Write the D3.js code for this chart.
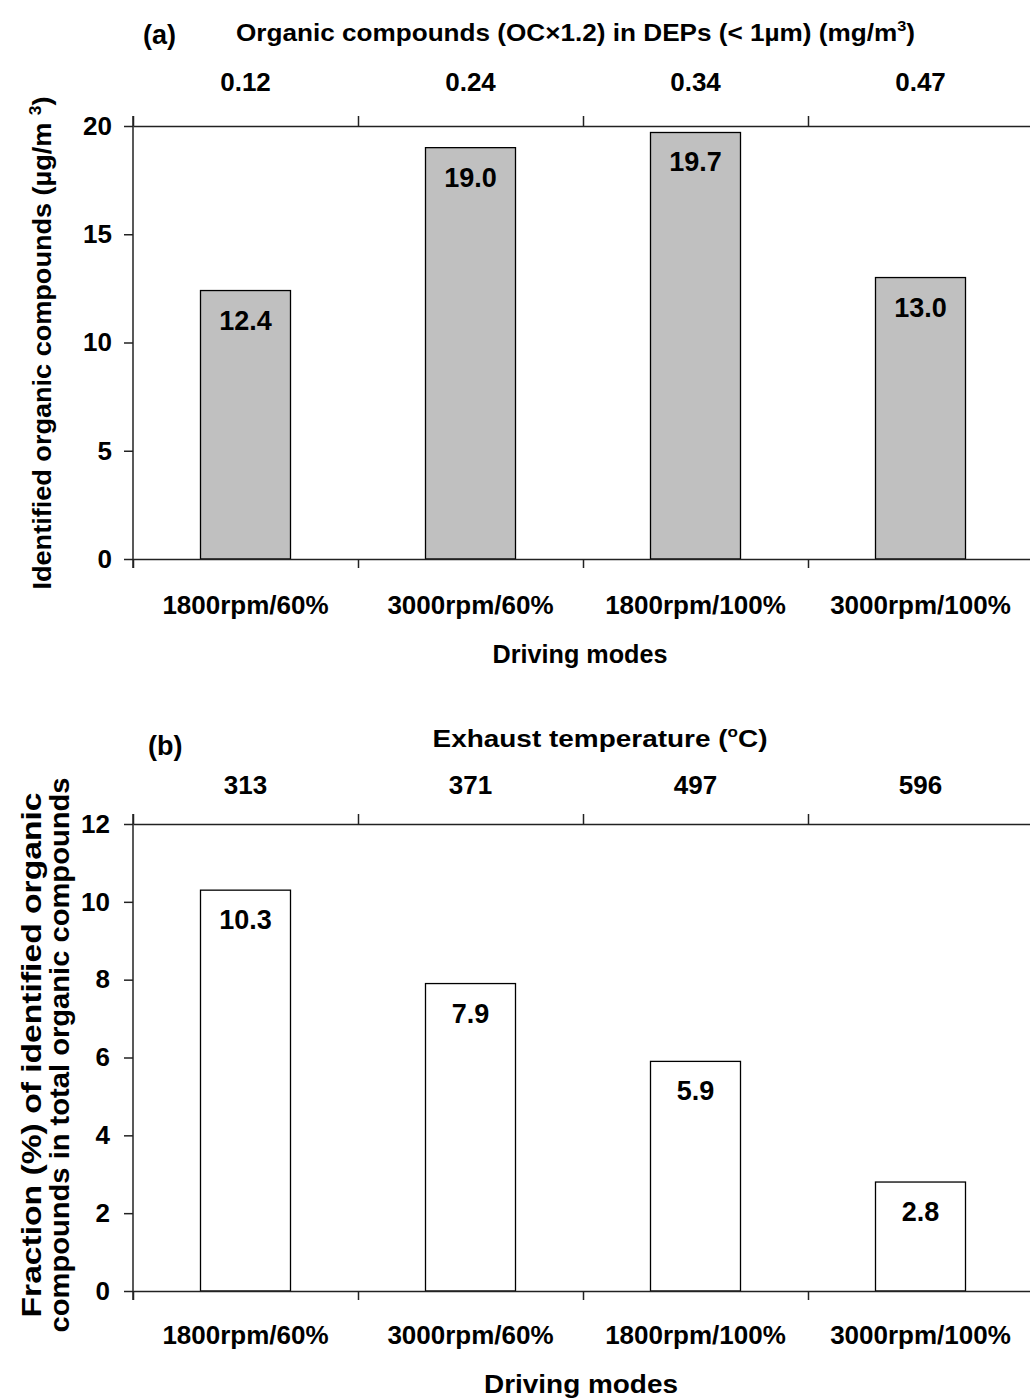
<!DOCTYPE html>
<html>
<head>
<meta charset="utf-8">
<script src="https://cdn.jsdelivr.net/npm/d3@7"></script>
<style>
  html, body { margin: 0; padding: 0; background: #fff; }
  svg { display: block; font-family: "Liberation Sans", Arial, sans-serif; font-weight: bold; }
</style>
</head>
<body>
<svg id="chart" width="1030" height="1399"></svg>
<script>
// ---- data ----
const modes = ["1800rpm/60%", "3000rpm/60%", "1800rpm/100%", "3000rpm/100%"];
const identifiedOC = [12.4, 19.0, 19.7, 13.0];          // µg/m3 (panel a)
const ocInDEPs = ["0.12", "0.24", "0.34", "0.47"];      // mg/m3, top labels (panel a)
const fractionIdentified = [10.3, 7.9, 5.9, 2.8];       // % (panel b)
const exhaustTemp = ["313", "371", "497", "596"];       // °C, top labels (panel b)
const yTicksA = [0, 5, 10, 15, 20];
const yTicksB = [0, 2, 4, 6, 8, 10, 12];

const svg = d3.select("#chart");
const X0 = 133, X1 = 1033;
const FF = "Liberation Sans, Arial, sans-serif";

function panel(opts) {
  const g = svg.append("g");
  const xBand = d3.scaleBand().domain(modes).range([X0, X1]).padding(0);
  const xEdge = d3.scaleLinear().domain([0, modes.length]).range([X0, X1]);
  const y = d3.scaleLinear().domain(opts.yDomain).range([opts.yBottom, opts.yTop]);
  const axisColor = "#222";

  // bars
  const bw = xBand.bandwidth() * 0.4;
  g.selectAll("rect.bar").data(opts.values).enter().append("rect")
    .attr("x", (d, i) => xBand(modes[i]) + (xBand.bandwidth() - bw) / 2)
    .attr("y", d => y(d))
    .attr("width", bw)
    .attr("height", d => y(0) - y(d))
    .attr("fill", opts.fill)
    .attr("stroke", "#000")
    .attr("stroke-width", 1.3);

  // value labels
  g.selectAll("text.val").data(opts.values).enter().append("text")
    .attr("x", (d, i) => xBand(modes[i]) + xBand.bandwidth() / 2)
    .attr("y", d => y(d) + 39)
    .attr("text-anchor", "middle")
    .attr("font-size", 27)
    .attr("fill", "#000")
    .text(d => d.toFixed(1));

  // left axis
  const yAxis = g.append("g").attr("transform", `translate(${X0},0)`)
    .call(d3.axisLeft(y).tickValues(opts.yTicks).tickSize(9).tickPadding(opts.tickPad).tickSizeOuter(0));
  yAxis.select(".domain").remove();
  yAxis.selectAll("line").attr("stroke", axisColor).attr("stroke-width", 1.5);
  yAxis.selectAll("text").attr("font-size", 26).attr("fill", "#000")
    .attr("font-family", FF).attr("font-weight", "bold");
  g.append("line").attr("x1", X0).attr("x2", X0).attr("y1", opts.yTop - 10).attr("y2", opts.yBottom + 9)
    .attr("stroke", axisColor).attr("stroke-width", 1.5);

  // bottom axis (boundary ticks)
  const bAxis = g.append("g").attr("transform", `translate(0,${opts.yBottom})`)
    .call(d3.axisBottom(xEdge).tickValues(d3.range(0, modes.length + 1)).tickSize(9).tickFormat("").tickSizeOuter(0));
  bAxis.selectAll("path,line").attr("stroke", axisColor).attr("stroke-width", 1.5);

  // top axis (boundary ticks)
  const tAxis = g.append("g").attr("transform", `translate(0,${opts.yTop})`)
    .call(d3.axisTop(xEdge).tickValues(d3.range(0, modes.length + 1)).tickSize(10).tickFormat("").tickSizeOuter(0));
  tAxis.selectAll("path,line").attr("stroke", axisColor).attr("stroke-width", 1.5);

  // category labels
  const cAxis = g.append("g").attr("transform", `translate(0,${opts.yBottom})`)
    .call(d3.axisBottom(xBand).tickSize(0).tickPadding(0));
  cAxis.select(".domain").remove();
  cAxis.selectAll("text").attr("dy", null).attr("y", opts.catOffset)
    .attr("font-size", opts.catFont).attr("fill", "#000")
    .attr("font-family", FF).attr("font-weight", "bold");

  // top secondary labels
  const topAxis = g.append("g").attr("transform", `translate(0,${opts.yTop})`)
    .call(d3.axisTop(xBand).tickSize(0).tickPadding(opts.topOffset).tickFormat((d, i) => opts.topLabels[i]));
  topAxis.select(".domain").remove();
  topAxis.selectAll("text").attr("font-size", 26).attr("fill", "#000")
    .attr("font-family", FF).attr("font-weight", "bold");

  // x title
  g.append("text").attr("x", opts.xTitleX).attr("y", opts.xTitleY).attr("text-anchor", "middle")
    .attr("font-size", opts.xTitleFont).attr("textLength", opts.xTitleLen).attr("lengthAdjust", "spacingAndGlyphs")
    .text("Driving modes");

  return { g, xBand, y };
}

// ---- panel (a) ----
const A = panel({
  values: identifiedOC, yDomain: [0, 20], yTop: 126, yBottom: 559, yTicks: yTicksA, tickPad: 12,
  fill: "#c0c0c0", topLabels: ocInDEPs, topOffset: 35, catOffset: 55, catFont: 26,
  xTitleX: 580, xTitleY: 663, xTitleFont: 25, xTitleLen: 175
});
svg.append("text").attr("x", 143).attr("y", 44).attr("font-size", 27).text("(a)");
const tA = svg.append("text").attr("x", 236).attr("y", 41).attr("font-size", 24)
  .attr("textLength", 679).attr("lengthAdjust", "spacingAndGlyphs");
tA.append("tspan").text("Organic compounds (OC×1.2) in DEPs (< 1µm) (mg/m");
tA.append("tspan").attr("font-size", 15).attr("dy", -10).text("3");
tA.append("tspan").attr("dy", 10).text(")");
const yA = svg.append("text").attr("transform", "translate(51,343) rotate(-90)")
  .attr("text-anchor", "middle").attr("font-size", 25)
  .attr("textLength", 493).attr("lengthAdjust", "spacingAndGlyphs");
yA.append("tspan").text("Identified organic compounds (µg/m ");
yA.append("tspan").attr("font-size", 16).attr("dy", -10).text("3");
yA.append("tspan").attr("dy", 10).text(")");

// ---- panel (b) ----
const B = panel({
  values: fractionIdentified, yDomain: [0, 12], yTop: 824, yBottom: 1291, yTicks: yTicksB, tickPad: 14,
  fill: "#ffffff", topLabels: exhaustTemp, topOffset: 30, catOffset: 53, catFont: 26,
  xTitleX: 581, xTitleY: 1393, xTitleFont: 26, xTitleLen: 194
});
svg.append("text").attr("x", 148).attr("y", 755).attr("font-size", 27).text("(b)");
const tB = svg.append("text").attr("x", 600).attr("y", 747).attr("text-anchor", "middle").attr("font-size", 23)
  .attr("textLength", 335).attr("lengthAdjust", "spacingAndGlyphs");
tB.append("tspan").text("Exhaust temperature (");
tB.append("tspan").attr("font-size", 14).attr("dy", -10).text("o");
tB.append("tspan").attr("dy", 10).text("C)");
const yB = svg.append("g").attr("transform", "translate(0,1055) rotate(-90)");
yB.append("text").attr("x", 0).attr("y", 41).attr("text-anchor", "middle").attr("font-size", 27)
  .attr("textLength", 525).attr("lengthAdjust", "spacingAndGlyphs")
  .text("Fraction (%) of identified organic");
yB.append("text").attr("x", 0).attr("y", 69).attr("text-anchor", "middle").attr("font-size", 27)
  .attr("textLength", 555).attr("lengthAdjust", "spacingAndGlyphs")
  .text("compounds in total organic compounds");
</script>
</body>
</html>
